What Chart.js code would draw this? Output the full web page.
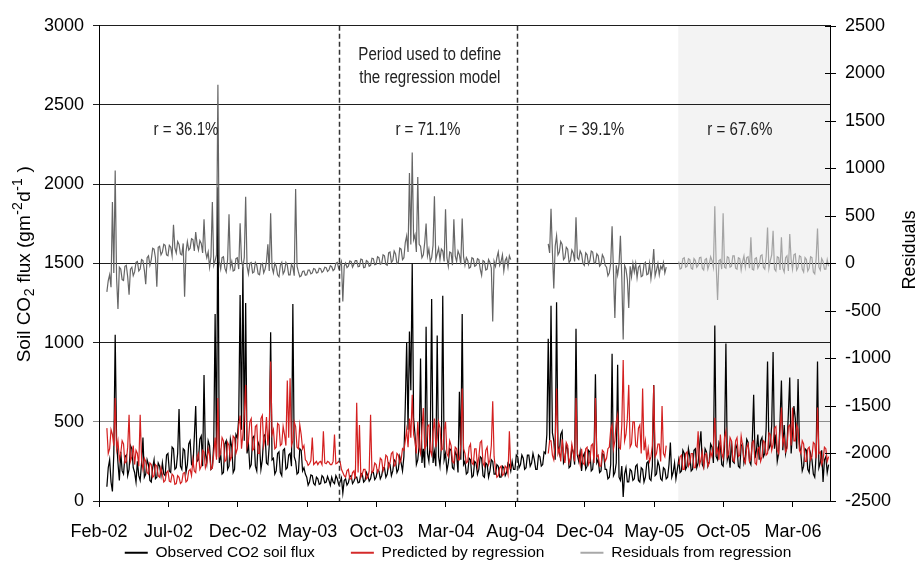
<!DOCTYPE html>
<html>
<head>
<meta charset="utf-8">
<script src="https://cdn.jsdelivr.net/npm/chart.js@4.4.1/dist/chart.umd.min.js"></script>
<style>
  html, body { margin: 0; padding: 0; background: #fff; }
  #wrap { width: 916px; height: 564px; }
</style>
</head>
<body>
<div id="wrap"><canvas id="myChart" width="916" height="564"></canvas></div>
<script>
// days counted from 1 Feb 2002, one reading every 3 days
const startDay = 30;
const stepDays = 3;

const tickDays = [13, 163, 313, 463, 613, 763, 913, 1063, 1213, 1363, 1513];
const tickLabels = ['Feb-02', 'Jul-02', 'Dec-02', 'May-03', 'Oct-03', 'Mar-04', 'Aug-04', 'Dec-04', 'May-05', 'Oct-05', 'Mar-06'];

const observed = [
  90, 210, 260, 120, 60, 300, 1050, 380, 240, 130, 310, 190, 170, 280, 290, 160, 200, 350, 330, 210,
  180, 120, 250, 160, 130, 240, 400, 150, 170, 260, 230, 130, 120, 210, 260, 140, 150, 240, 220, 160,
  240, 170, 160, 290, 300, 190, 180, 340, 330, 200, 210, 300, 580, 220, 200, 330, 320, 180, 230, 360,
  380, 230, 220, 400, 600, 250, 260, 390, 410, 220, 795, 300, 240, 380, 350, 200, 210, 360, 1180, 280,
  1980, 240, 300, 170, 180, 360, 380, 200, 220, 390, 340, 180, 200, 420, 400, 520, 1300, 450, 1480, 380,
  1250, 300, 360, 210, 230, 400, 410, 220, 190, 370, 350, 200, 260, 410, 420, 240, 230, 350, 1066, 260,
  270, 170, 190, 300, 310, 180, 160, 320, 330, 200, 210, 290, 300, 220, 1243, 280, 250, 170, 180, 330,
  320, 190, 210, 170, 150, 100, 120, 165, 160, 110, 100, 150, 140, 105, 110, 160, 150, 115, 120, 155,
  130, 100, 150, 120, 110, 160, 140, 105, 120, 145, 50, 130, 140, 100, 115, 155, 160, 110, 125, 150,
  150, 115, 120, 175, 170, 120, 130, 180, 160, 125, 140, 185, 180, 135, 150, 195, 190, 140, 160, 210,
  210, 150, 170, 240, 230, 160, 190, 260, 250, 180, 200, 280, 240, 190, 280, 600, 1000, 450, 1070, 700,
  1500, 520, 420, 230, 260, 350, 900, 240, 330, 210, 1100, 300, 250, 380, 1275, 240, 310, 220, 1045, 280,
  220, 340, 1295, 260, 300, 190, 240, 330, 320, 210, 200, 310, 290, 180, 690, 260, 1180, 230, 250, 170,
  180, 270, 260, 150, 160, 250, 240, 170, 200, 280, 270, 160, 150, 240, 230, 150, 190, 260, 250, 170,
  170, 230, 220, 150, 150, 220, 210, 160, 180, 240, 230, 190, 250, 200, 200, 290, 280, 210, 230, 290,
  270, 200, 210, 290, 290, 220, 240, 300, 260, 200, 200, 290, 280, 220, 230, 310, 300, 420, 1025, 380,
  1233, 430, 380, 260, 1254, 350, 300, 420, 440, 240, 260, 350, 330, 210, 220, 340, 310, 230, 1087, 290,
  250, 310, 190, 280, 300, 200, 220, 320, 310, 190, 200, 300, 800, 240, 260, 180, 190, 300, 290, 200,
  200, 140, 150, 230, 930, 160, 180, 240, 860, 150, 130, 220, 25, 170, 210, 120, 120, 200, 190, 130,
  140, 220, 230, 130, 120, 210, 200, 120, 150, 240, 250, 140, 130, 220, 733, 160, 170, 250, 220, 140,
  130, 210, 200, 140, 150, 230, 369, 150, 180, 240, 140, 200, 260, 180, 190, 320, 300, 200, 220, 330,
  280, 190, 200, 320, 330, 210, 240, 350, 440, 230, 210, 330, 310, 220, 250, 360, 340, 240, 1108, 280,
  260, 370, 350, 230, 220, 340, 994, 260, 300, 210, 380, 250, 240, 360, 330, 220, 210, 350, 360, 240,
  280, 390, 370, 250, 230, 380, 670, 270, 320, 420, 260, 380, 400, 280, 300, 460, 880, 330, 350, 480,
  940, 330, 420, 250, 300, 500, 760, 320, 480, 300, 350, 550, 780, 300, 440, 600, 520, 330, 770, 360,
  300, 190, 220, 330, 320, 200, 180, 300, 260, 170, 150, 290, 880, 210, 240, 320, 120, 260, 280, 180,
  230
];

const predicted = [
  460, 300, 330, 450, 420, 350, 650, 330, 380, 260, 300, 380, 360, 240, 250, 340, 545, 250, 280, 350,
  230, 320, 300, 220, 545, 260, 200, 270, 250, 180, 170, 240, 230, 150, 160, 230, 220, 160, 150, 210,
  170, 120, 130, 180, 190, 125, 120, 170, 160, 105, 110, 160, 150, 110, 120, 175, 180, 120, 130, 190,
  200, 160, 260, 190, 180, 280, 300, 200, 220, 320, 310, 210, 240, 330, 290, 200, 210, 300, 400, 260,
  650, 280, 300, 400, 380, 250, 260, 370, 350, 260, 280, 410, 400, 300, 330, 480, 540, 330, 420, 550,
  733, 340, 380, 500, 520, 320, 330, 470, 480, 300, 300, 520, 540, 350, 400, 530, 350, 460, 880, 420,
  450, 330, 340, 490, 480, 350, 360, 470, 420, 350, 760, 400, 775, 350, 380, 500, 470, 340, 330, 480,
  420, 330, 350, 260, 250, 225, 235, 255, 400, 230, 240, 250, 230, 245, 250, 230, 440, 240, 235, 250,
  245, 230, 230, 250, 420, 235, 240, 250, 250, 200, 180, 160, 150, 190, 200, 140, 140, 180, 190, 140,
  620, 180, 480, 150, 170, 200, 200, 140, 150, 190, 545, 180, 190, 240, 230, 180, 200, 270, 260, 190,
  220, 290, 280, 210, 240, 300, 310, 220, 230, 300, 290, 240, 260, 330, 320, 380, 450, 340, 520, 400,
  670, 420, 380, 300, 500, 340, 300, 450, 587, 330, 350, 470, 480, 320, 290, 430, 520, 340, 400, 500,
  460, 320, 330, 440, 500, 300, 280, 380, 350, 250, 240, 340, 330, 260, 260, 360, 710, 330, 300, 240,
  250, 340, 360, 240, 230, 330, 330, 220, 280, 370, 380, 240, 220, 320, 340, 230, 260, 350, 630, 280,
  200, 150, 160, 210, 220, 160, 170, 220, 210, 170, 440, 200, null, null, null, null, null, null, null, null,
  null, null, null, null, null, null, null, null, null, null, null, null, null, null, null, null, null, null, 300, 380,
  380, 290, 260, 370, 710, 300, 330, 250, 390, 310, 240, 370, 350, 240, 270, 360, 310, 250, 650, 300,
  280, 230, 330, 240, 230, 330, 340, 230, 250, 350, 360, 240, 650, 280, 290, 220, 220, 320, 310, 250,
  270, 330, 340, 450, 480, 330, 380, 500, 545, 340, 330, 480, 890, 380, 420, 520, 733, 340, 360, 500,
  500, 350, 340, 460, 480, 300, 710, 320, 380, 260, 330, 250, 280, 350, 730, 280, 300, 360, 360, 250,
  600, 300, 280, 350, null, null, null, null, null, null, null, null, 230, 280, 290, 200, 200, 300, 310, 220,
  240, 300, 300, 210, 210, 290, 440, 230, 260, 310, 220, 290, 300, 220, 240, 310, 280, 350, 525, 300,
  330, 260, 420, 300, 270, 400, 440, 280, 300, 400, 380, 260, 250, 380, 400, 280, 290, 410, 350, 260,
  240, 340, 360, 250, 270, 370, 380, 240, 230, 330, 340, 250, 280, 380, 370, 290, 300, 430, 420, 320,
  360, 460, 470, 320, 300, 440, 590, 360, 400, 310, 330, 470, 480, 350, 590, 380, 380, 480, 450, 320,
  300, 380, 360, 250, 250, 330, 340, 260, 280, 370, 360, 270, 590, 300, 310, 230, 260, 340, 330, 250,
  280
];

const residuals = [
  -300, -180, -120, -250, 645, -100, 978, -150, -480, -40, -60, -170, -180, -30, -20, -140, -330, -60, -40, -130,
  -90, 10, 20, -80, -60, 40, 30, -70, -220, 60, 80, -20, 40, 160, 150, 60, -246, 170, 180, 90,
  120, 200, 190, 90, 80, 190, 170, 80, 406, 160, 110, 230, 200, 100, 90, 210, -350, 120, 230, 140,
  160, 260, 250, 130, 330, 200, 140, 240, 210, 110, 465, 130, 60, 120, -40, 70, 645, -20, 30, 90,
  1880, 20, -60, 60, 70, -50, -90, 40, 517, -40, 20, -80, -70, 50, 60, -60, 423, 30, -40, 60,
  700, -30, -110, 0, 10, -100, -90, 10, -20, -110, -120, -10, 0, -100, -60, 20, 200, -80, 527, -40,
  -100, 0, -30, -120, -140, -20, 10, -110, -80, 10, -20, -120, -120, -10, -40, -130, 784, -30, -90, -140,
  -130, -85, -80, -125, -120, -70, -70, -110, -100, -55, -60, -100, -95, -50, -55, -95, -80, -40, -45, -85,
  -70, -25, -35, -75, -60, 0, 10, -50, -20, 20, -400, -30, 5, -45, -30, 25, 20, -40, -10, 30,
  30, -35, -30, 45, 40, -45, -40, 30, 20, -30, -20, 55, 50, -15, -10, 70, 60, -10, 0, 90,
  80, -10, -20, 110, 120, 10, 30, 130, 100, 0, 10, 160, 150, 40, 60, 220, 290, 120, 950, 200,
  1166, 250, 300, 120, 909, 200, 180, 60, 90, 220, 420, 80, 150, 20, 60, 190, 707, 40, 100, 160,
  40, 150, 130, 20, 570, 60, -30, 120, 110, -20, 465, 80, 20, 130, 90, -10, 472, 70, -20, 60,
  30, -50, -40, 60, 50, -30, -20, 50, 40, -60, -125, 30, 20, -70, -60, 40, 10, -50, -610, 20,
  -30, 60, 120, -20, 20, 90, -80, 30, 60, -40, 80, 40, null, null, null, null, null, null, null, null,
  null, null, null, null, null, null, null, null, null, null, null, null, null, null, null, null, null, null, 205, 110,
  576, 120, -264, 180, 290, 90, 120, 230, 200, 40, 60, 170, 150, 10, 30, 140, 110, 20, 485, 60,
  40, 130, 100, 0, -20, 110, 90, -10, 30, 130, 120, 10, 0, 100, 80, -30, -10, 90, 60, -20,
  -40, -130, -100, 0, 390, -90, -575, -20, -120, -10, 290, -150, -800, -20, -60, -170, -470, -30, -140, 0,
  -90, 0, -150, -40, -20, -140, -130, -10, 10, -120, -110, 0, -160, -40, 150, -130, -70, 0, -120, -30,
  -60, 10, -100, -40, null, null, null, null, null, null, null, null, 20, -60, -50, 50, 60, -40, -30, 50,
  40, -50, -60, 50, 30, -40, -20, 60, 65, -50, -70, 40, 50, -60, -10, 70, 30, -40, 600, -20,
  -385, 30, 40, -60, 527, -40, -50, 70, 60, -40, -30, 80, 80, -50, -60, 60, 50, -70, 20, 80,
  -40, 60, 70, -50, 274, -60, -70, 50, 60, -50, -20, 80, 90, -40, -60, 70, 378, -50, 30, 90,
  343, -60, -80, 70, 60, -70, 274, -50, -90, 60, 80, -80, 310, 40, -60, 90, 100, -70, -40, 80,
  70, -60, -90, 60, 40, -80, -50, 70, 60, -90, -110, 50, 368, -40, -70, 50, 20, -60, -60, 40,
  -30
];

const seriesNames = ['Observed CO2 soil flux', 'Predicted by regression', 'Residuals from regression'];
const periodBounds = [532, 917];   // dashed lines
const shadeStart = 1265;           // start of grey band
const notes = [
  { day: 728, value: 2815, text: 'Period used to define' },
  { day: 728, value: 2670, text: 'the regression model' },
  { day: 201, value: 2345, text: 'r = 36.1%' },
  { day: 724, value: 2345, text: 'r = 71.1%' },
  { day: 1078, value: 2345, text: 'r = 39.1%' },
  { day: 1398, value: 2345, text: 'r = 67.6%' }
];

const FONT = '"Liberation Sans", Arial, sans-serif';
Chart.defaults.font.family = FONT;
Chart.defaults.color = '#000';

function toPoints(arr) {
  return arr.map((v, i) => ({ x: startDay + i * stepDays, y: v }));
}

const legendColors = ['#000000', '#d42a2a', '#a8a8a8'];

const decor = {
  id: 'decor',
  afterLayout(chart) {
    // legend row sits lower than Chart.js would put it
    if (chart.legend) chart.legend.top = 509;
  },
  beforeDraw(chart) {
    const { ctx, chartArea: a, scales } = chart;
    ctx.save();
    ctx.fillStyle = '#fff';
    ctx.fillRect(0, 0, chart.width, chart.height);
    const xs = scales.x.getPixelForValue(shadeStart);
    ctx.fillStyle = '#f3f3f3';
    ctx.fillRect(xs, a.top, a.right - xs, a.bottom - a.top);
    ctx.restore();
  },
  afterDatasetsDraw(chart) {
    const { ctx, chartArea: a, scales } = chart;
    ctx.save();
    ctx.strokeStyle = '#333';
    ctx.lineWidth = 1.5;
    ctx.setLineDash([5, 3]);
    periodBounds.forEach(d => {
      const x = Math.round(scales.x.getPixelForValue(d)) + 0.5;
      ctx.beginPath();
      ctx.moveTo(x, a.top);
      ctx.lineTo(x, a.bottom);
      ctx.stroke();
    });
    ctx.restore();
  },
  afterDraw(chart) {
    const { ctx, chartArea: a, scales } = chart;
    ctx.save();
    // notes (narrow type)
    ctx.fillStyle = '#222';
    ctx.font = '18px ' + FONT;
    ctx.textAlign = 'center';
    ctx.textBaseline = 'middle';
    notes.forEach(n => {
      const x = scales.x.getPixelForValue(n.day);
      const y = scales.y.getPixelForValue(n.value);
      ctx.save();
      ctx.translate(x, y);
      ctx.scale(0.84, 1);
      ctx.fillText(n.text, 0, 0);
      ctx.restore();
    });

    // right axis cross ticks
    ctx.strokeStyle = '#000';
    ctx.lineWidth = 1;
    for (let v = -2500; v <= 2500; v += 500) {
      const y = Math.round(scales.y1.getPixelForValue(v)) + 0.5;
      ctx.beginPath();
      ctx.moveTo(a.right - 5, y);
      ctx.lineTo(a.right + 6, y);
      ctx.stroke();
    }

    // left title with sub/superscripts
    const big = 19, small = 14;
    const parts = [
      { t: 'Soil CO', f: big, dy: 0 },
      { t: '2', f: small, dy: 4 },
      { t: ' flux (gm', f: big, dy: 0 },
      { t: '-2', f: small, dy: -8 },
      { t: 'd', f: big, dy: 0 },
      { t: '-1', f: small, dy: -8 },
      { t: ' )', f: big, dy: 0 }
    ];
    let total = 0;
    parts.forEach(p => { ctx.font = p.f + 'px ' + FONT; p.w = ctx.measureText(p.t).width; total += p.w + 0.5; });
    ctx.save();
    ctx.translate(30, 264);
    ctx.rotate(-Math.PI / 2);
    ctx.textAlign = 'left';
    ctx.textBaseline = 'alphabetic';
    ctx.fillStyle = '#000';
    let cx = -total / 2;
    parts.forEach(p => {
      ctx.font = p.f + 'px ' + FONT;
      ctx.fillText(p.t, cx, p.dy);
      cx += p.w + 0.5;
    });
    ctx.restore();

    // right title, just touching the page edge as in the source
    ctx.save();
    ctx.translate(915, 250);
    ctx.rotate(-Math.PI / 2);
    ctx.font = '18px ' + FONT;
    ctx.textAlign = 'center';
    ctx.textBaseline = 'alphabetic';
    ctx.fillStyle = '#000';
    ctx.fillText('Residuals', 0, 0);
    ctx.restore();
    ctx.restore();
  }
};

const ctx = document.getElementById('myChart');

new Chart(ctx, {
  type: 'line',
  data: {
    datasets: [{
      label: seriesNames[0],
      data: toPoints(observed),
      borderColor: '#000',
      backgroundColor: '#000',
      borderWidth: 1.25,
      order: 2,
      yAxisID: 'y'
    }, {
      label: seriesNames[1],
      data: toPoints(predicted),
      borderColor: '#d42020',
      backgroundColor: '#d42020',
      borderWidth: 1.2,
      order: 1,
      yAxisID: 'y'
    }, {
      label: seriesNames[2],
      data: toPoints(residuals),
      borderColor: '#6b6b6b',
      backgroundColor: '#a8a8a8',
      borderWidth: 1.2,
      order: 0,
      yAxisID: 'y1',
      segment: {
        borderColor: c => c.p0.parsed.x >= shadeStart ? '#a4a4a4' : '#666666'
      }
    }]
  },
  options: {
    responsive: false,
    animation: false,
    devicePixelRatio: 1,
    spanGaps: false,
    elements: { point: { radius: 0 }, line: { tension: 0 } },
    layout: { padding: { top: 21, left: 0, right: 0, bottom: 0 } },
    plugins: {
      tooltip: { enabled: false },
      legend: {
        position: 'bottom',
        maxHeight: 22,
        labels: {
          boxWidth: 23,
          boxHeight: 2,
          padding: 36,
          color: '#333',
          font: { size: 15.5 },
          generateLabels: chart => chart.data.datasets.map((ds, i) => ({
            text: ds.label,
            fillStyle: legendColors[i],
            strokeStyle: legendColors[i],
            lineWidth: 0,
            hidden: false,
            datasetIndex: i
          }))
        }
      }
    },
    scales: {
      x: {
        type: 'linear',
        min: 13,
        max: 1593,
        afterBuildTicks: axis => { axis.ticks = tickDays.map(v => ({ value: v })); },
        afterFit: axis => { axis.height = 41; },
        ticks: {
          autoSkip: false,
          maxRotation: 0,
          padding: 14,
          font: { size: 18 },
          color: '#000',
          callback: (v, i) => tickLabels[i]
        },
        grid: { drawOnChartArea: false, drawTicks: true, tickLength: 6, color: '#000' },
        border: { color: '#000', width: 1 }
      },
      y: {
        position: 'left',
        min: 0,
        max: 3000,
        afterFit: axis => { axis.width = 99; },
        ticks: {
          stepSize: 500,
          padding: 9,
          font: { size: 18 },
          color: '#000',
          callback: v => String(v)
        },
        grid: {
          drawTicks: true,
          tickLength: 6,
          color: c => (c.tick && c.tick.value === 500) ? '#8c8c8c' : '#1e1e1e'
        },
        border: { color: '#000', width: 1 }
      },
      y1: {
        position: 'right',
        min: -2500,
        max: 2500,
        afterFit: axis => { axis.width = 86; },
        ticks: {
          stepSize: 500,
          padding: 15,
          font: { size: 18 },
          color: '#000',
          callback: v => String(v)
        },
        grid: { drawOnChartArea: false, drawTicks: false },
        border: { display: true, color: '#000', width: 1 }
      }
    }
  },
  plugins: [decor]
});
</script>
</body>
</html>
